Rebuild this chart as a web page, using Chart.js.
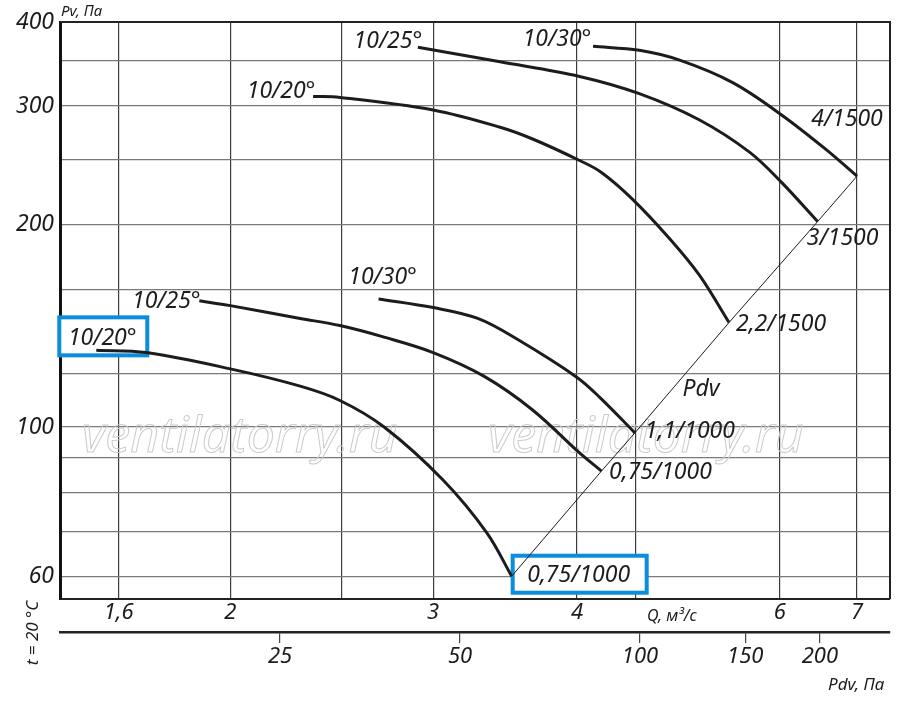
<!DOCTYPE html>
<html>
<head>
<meta charset="utf-8">
<script src="https://cdn.jsdelivr.net/npm/chart.js@4.4.0/dist/chart.umd.min.js"></script>
<style>
  html, body { margin: 0; padding: 0; background: #fff; }
  #wrap { width: 900px; height: 712px; }
</style>
</head>
<body>
<div id="wrap"><canvas id="fanChart" width="900" height="712"></canvas></div>
<script>
'use strict';

// ─── DATA ────────────────────────────────────────────────────

// Q, m3/s  and  Pv, Pa  for each curve (lower group 1000 rpm, upper group 1500 rpm)
const q1 = [1.53, 1.69, 2.0, 2.30, 2.49, 2.72, 3.06, 3.34, 3.51];
const p1 = [130, 129, 122, 115, 109.5, 100, 83.4, 69.6, 60.0];

const q2 = [1.88, 2.0, 2.30, 2.49, 2.72, 3.0, 3.32, 3.66, 4.02, 4.20];
const p2 = [154, 151.5, 145, 141.5, 136, 129, 119, 106, 91.5, 86];

const q3 = [2.69, 3.0, 3.28, 3.55, 4.0, 4.19, 4.49];
const p3 = [155, 150.5, 145, 135, 118.5, 110.5, 98];

const q4 = [2.36, 2.49, 3.0, 3.43, 3.66, 4.02, 4.20, 4.47, 4.82, 5.11, 5.42];
const p4 = [310, 309, 296, 279, 268, 249, 239, 218, 190, 168, 143];

const q5 = [2.91, 3.43, 4.02, 4.53, 5.11, 5.65, 6.02, 6.47];
const p5 = [367, 349, 332, 313, 286, 256, 231, 202];

const q6 = [4.13, 4.53, 4.91, 5.46, 6.02, 6.59, 7.0];
const p6 = [368, 363, 351, 325, 291, 258, 236];

const curveNames  = ['10/20°', '10/25°', '10/30°', '10/20°', '10/25°', '10/30°'];
const motorLabels = ['0,75/1000', '0,75/1000', '1,1/1000', '2,2/1500', '3/1500', '4/1500'];

// axis ticks
const qGrid    = [1.6, 2, 2.5, 3, 4, 4.5, 6, 7];
const qLabels  = [1.6, 2, 3, 4, 6, 7];
const pvGrid   = [60, 70, 80, 90, 100, 120, 160, 200, 250, 300, 350, 400];
const pvLabels = [60, 100, 200, 300, 400];
const pdvTicks = [25, 50, 100, 150, 200];

// ─── STYLE ───────────────────────────────────────────────────

const FONT = "'Noto Sans', 'DejaVu Sans', sans-serif";
const INK = '#1c1c1c';
const BLUE = '#0a8ddc';

// label placement offsets (px) from curve start / end
const startOffsets = [[6, -12], [-33, 1], [4, -22], [-32, -5], [-30, -6], [-36, -7]];
const endOffsets   = [[67, -1], [59, 1], [55, -1], [52, 2], [25, 17], [-10, -57]];
const boxedStart = [true, false, false, false, false, false];
const boxedEnd   = [true, false, false, false, false, false];

const fmt = v => String(v).replace('.', ',');

const series = [[q1, p1], [q2, p2], [q3, p3], [q4, p4], [q5, p5], [q6, p6]];
const toPoints = (q, p) => q.map((x, i) => ({ x, y: p[i] }));

const curveSets = series.map(([q, p]) => ({
  data: toPoints(q, p),
  borderColor: INK,
  borderWidth: 3,
  pointRadius: 0,
  tension: 0.35,
  fill: false,
}));

// Pdv line through the end points of all curves
const pdvLine = {
  data: series.map(([q, p]) => ({ x: q[q.length - 1], y: p[p.length - 1] })),
  borderColor: INK,
  borderWidth: 1,
  pointRadius: 0,
  tension: 0,
  fill: false,
};

// ─── DECOR PLUGIN ────────────────────────────────────────────

function italic(size) { return `italic ${size}px ${FONT}`; }

function labelBoxes(chart, cb) {
  const xs = chart.scales.x, ys = chart.scales.y;
  series.forEach(([q, p], i) => {
    const sx = xs.getPixelForValue(q[0]), sy = ys.getPixelForValue(p[0]);
    const ex = xs.getPixelForValue(q[q.length - 1]), ey = ys.getPixelForValue(p[p.length - 1]);
    cb(i, sx, sy, ex, ey);
  });
}

const decor = {
  id: 'decor',
  beforeDatasetsDraw(chart) {
    const ctx = chart.ctx;
    ctx.save();
    ctx.font = italic(50);
    ctx.strokeStyle = '#cbcbcb';
    ctx.lineWidth = 1;
    ctx.textBaseline = 'alphabetic';
    ctx.strokeText('ventilatorry.ru', 82, 452);
    ctx.strokeText('ventilatorry.ru', 488, 452);

    // highlighted label boxes (under the curves)
    const drawBox = (cx, cy, w, h) => {
      ctx.fillStyle = '#fff';
      ctx.fillRect(cx - w / 2, cy - h / 2, w, h);
      ctx.strokeStyle = BLUE;
      ctx.lineWidth = 4;
      ctx.strokeRect(cx - w / 2, cy - h / 2, w, h);
    };
    labelBoxes(chart, (i, sx, sy, ex, ey) => {
      const [sdx, sdy] = startOffsets[i];
      if (boxedStart[i]) drawBox(sx + sdx + 1, sy + sdy - 2, 88, 38);
      const [edx, edy] = endOffsets[i];
      if (boxedEnd[i]) drawBox(ex + edx + 1, ey + edy - 1, 134, 37);
    });
    ctx.restore();
  },
  afterDraw(chart) {
    const ctx = chart.ctx;
    const a = chart.chartArea;
    const xs = chart.scales.x, ys = chart.scales.y;
    ctx.save();

    // top + right frame
    ctx.strokeStyle = '#222';
    ctx.lineWidth = 2;
    ctx.beginPath();
    ctx.moveTo(a.left, a.top);
    ctx.lineTo(a.right, a.top);
    ctx.lineTo(a.right, a.bottom);
    ctx.stroke();

    ctx.fillStyle = INK;
    ctx.textAlign = 'center';
    ctx.textBaseline = 'middle';
    ctx.font = italic(23);

    labelBoxes(chart, (i, sx, sy, ex, ey) => {
      const [sdx, sdy] = startOffsets[i];
      ctx.fillText(curveNames[i], sx + sdx, sy + sdy);
      const [edx, edy] = endOffsets[i];
      ctx.fillText(motorLabels[i], ex + edx, ey + edy);
    });

    // "Pdv" along the diagonal
    const mx = (xs.getPixelForValue(q3[q3.length - 1]) + xs.getPixelForValue(q4[q4.length - 1])) / 2;
    const my = (ys.getPixelForValue(p3[p3.length - 1]) + ys.getPixelForValue(p4[p4.length - 1])) / 2;
    ctx.fillText('Pdv', mx + 19, my + 12);

    // axis titles
    ctx.textAlign = 'left';
    ctx.textBaseline = 'alphabetic';
    ctx.font = italic(15);
    ctx.fillText('Pv, Па', a.left + 1, 16);
    ctx.font = italic(16);
    ctx.fillText('Q, м³/с', 647, 621);
    ctx.font = italic(17);
    ctx.fillText('Pdv, Па', 828, 690);

    ctx.translate(38, 633);
    ctx.rotate(-Math.PI / 2);
    ctx.textAlign = 'center';
    ctx.font = italic(17);
    ctx.fillText('t = 20 °C', 0, 0);
    ctx.restore();
  }
};

// ─── CHART ───────────────────────────────────────────────────

Chart.defaults.font.family = FONT;
Chart.defaults.color = INK;

new Chart(document.getElementById('fanChart'), {
  type: 'line',
  data: { datasets: [...curveSets, pdvLine] },
  options: {
    responsive: false,
    animation: false,
    events: [],
    layout: { padding: { top: 22, right: 10, left: 0, bottom: 0 } },
    plugins: { legend: { display: false }, tooltip: { enabled: false } },
    scales: {
      x: {
        type: 'logarithmic',
        position: 'bottom',
        min: 1.423,
        max: 7.477,
        afterBuildTicks: s => { s.ticks = qGrid.map(v => ({ value: v })); },
        afterFit: s => { s.height = 33; },
        ticks: {
          autoSkip: false,
          maxRotation: 0,
          padding: 1,
          font: { size: 22, style: 'italic' },
          color: INK,
          callback: v => qLabels.includes(v) ? fmt(v) : '',
        },
        grid: { color: '#3c3c3c', lineWidth: 1.2, drawTicks: false },
        border: { color: '#222', width: 2 },
      },
      x2: {
        type: 'logarithmic',
        position: 'bottom',
        min: 10.71,
        max: 262,
        afterBuildTicks: s => { s.ticks = pdvTicks.map(v => ({ value: v })); },
        afterFit: s => { s.height = 80; },
        ticks: {
          autoSkip: false,
          maxRotation: 0,
          padding: 1,
          font: { size: 22, style: 'italic' },
          color: INK,
          callback: v => fmt(v),
        },
        grid: { drawOnChartArea: false, tickLength: 11, color: '#444', lineWidth: 1.2 },
        border: { color: '#222', width: 2.5 },
      },
      y: {
        type: 'logarithmic',
        min: 55.5,
        max: 400,
        afterBuildTicks: s => { s.ticks = pvGrid.map(v => ({ value: v })); },
        afterFit: s => { s.width = 60; },
        ticks: {
          autoSkip: false,
          padding: 6,
          font: { size: 23, style: 'italic' },
          color: INK,
          callback: v => pvLabels.includes(v) ? fmt(v) : '',
        },
        grid: { color: '#7a7a7a', lineWidth: 1.3, drawTicks: false },
        border: { color: '#111', width: 3 },
      },
    },
  },
  plugins: [decor],
});
</script>
</body>
</html>
